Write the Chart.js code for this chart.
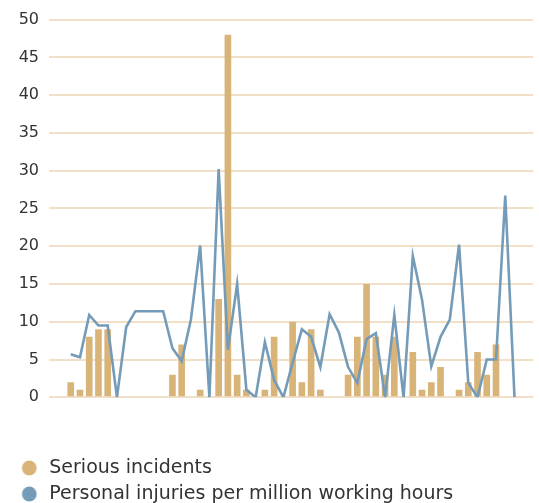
<!DOCTYPE html>
<html>
<head>
<meta charset="utf-8">
<script src="https://cdn.jsdelivr.net/npm/chart.js@4/dist/chart.umd.min.js"></script>
<style>
  html, body { margin: 0; padding: 0; background: #ffffff; }
  #wrap { width: 539px; height: 503px; }
</style>
</head>
<body>
<div id="wrap"><canvas id="chart" width="539" height="503"></canvas></div>
<script>
// Reporting periods, in order (not labelled on the axis)
const periods = [
  1, 2, 3, 4, 5, 6, 7, 8, 9, 10,
  11, 12, 13, 14, 15, 16, 17, 18, 19, 20,
  21, 22, 23, 24, 25, 26, 27, 28, 29, 30,
  31, 32, 33, 34, 35, 36, 37, 38, 39, 40,
  41, 42, 43, 44, 45, 46, 47, 48, 49
];

// Number of serious incidents per period
const seriousIncidents = [
  2, 1, 8, 9, 9, 0, 0, 0, 0, 0,
  0, 3, 7, 0, 1, 0, 13, 48, 3, 1,
  0, 1, 8, 0, 10, 2, 9, 1, 0, 0,
  3, 8, 15, 8, 3, 8, 0, 6, 1, 2,
  4, 0, 1, 2, 6, 3, 7, 0, 0
];

// Personal injuries per million working hours
const injuryRate = [
  5.7, 5.3, 10.9, 9.5, 9.5, 0, 9.3, 11.4, 11.4, 11.4,
  11.4, 6.5, 4.8, 10.3, 20.1, 0, 30.2, 6.3, 15.0, 1.0,
  0, 7.3, 2.3, 0, 4.6, 9.0, 8.0, 4.0, 11.0, 8.6,
  4.0, 1.9, 7.7, 8.5, 0, 10.9, 0, 18.7, 12.9, 4.1,
  8.0, 10.3, 20.2, 1.9, 0, 5.0, 5.0, 26.7, 0
];

// Value axis ticks
const yTicks = [0, 5, 10, 15, 20, 25, 30, 35, 40, 45, 50];

const seriesNames = ['Serious incidents', 'Personal injuries per million working hours'];

const BAR_COLOR = '#d8b479';
const LINE_COLOR = '#749bb8';
const GRID_COLOR = '#f1dfc8';
const TEXT_COLOR = '#333333';
const FONT = 'DejaVu Sans, Verdana, sans-serif';

// Round legend markers, drawn a little left of the box centre
function legendDot(color) {
  const c = document.createElement('canvas');
  c.width = 24; c.height = 18;
  const g = c.getContext('2d');
  g.fillStyle = color;
  g.beginPath();
  g.arc(11, 9, 7.4, 0, Math.PI * 2);
  g.fill();
  return c;
}
const dots = [legendDot(BAR_COLOR), legendDot(LINE_COLOR)];

const ctx = document.getElementById('chart').getContext('2d');
new Chart(ctx, {
  type: 'bar',
  data: {
    datasets: [
      {
        type: 'bar',
        label: seriesNames[0],
        data: periods.map((p, i) => ({ x: i, y: seriousIncidents[i] })),
        backgroundColor: BAR_COLOR,
        borderWidth: 0,
        categoryPercentage: 0.8,
        barPercentage: 0.9,
        order: 1
      },
      {
        type: 'line',
        label: seriesNames[1],
        data: periods.map((p, i) => ({ x: i, y: injuryRate[i] })),
        borderColor: LINE_COLOR,
        backgroundColor: LINE_COLOR,
        borderWidth: 2.6,
        pointRadius: 0,
        tension: 0,
        fill: false,
        order: 0
      }
    ]
  },
  options: {
    responsive: false,
    animation: false,
    events: [],
    layout: { padding: { left: 13.8, right: 6, top: 10, bottom: -10.5 } },
    scales: {
      x: {
        type: 'linear',
        min: -2.35,
        max: 50,
        offset: false,
        grid: { display: false },
        border: { display: false },
        ticks: { display: false },
        afterFit: (scale) => { scale.height = 54.2; }
      },
      y: {
        min: 0,
        max: 50,
        afterBuildTicks: (scale) => { scale.ticks = yTicks.map(v => ({ value: v })); },
        grid: { color: GRID_COLOR, lineWidth: 2, drawTicks: false },
        border: { display: false },
        ticks: {
          padding: 10,
          color: TEXT_COLOR,
          font: { family: FONT, size: 16 }
        },
        afterFit: (scale) => { scale.width = 35.2; }
      }
    },
    plugins: {
      tooltip: { enabled: false },
      legend: {
        position: 'bottom',
        align: 'start',
        labels: {
          usePointStyle: true,
          padding: 7,
          color: TEXT_COLOR,
          font: { family: FONT, size: 19 },
          sort: (a, b) => a.datasetIndex - b.datasetIndex,
          generateLabels: (chart) => {
            const items = Chart.defaults.plugins.legend.labels.generateLabels(chart);
            items.forEach(it => {
              it.pointStyle = dots[it.datasetIndex];
              it.lineWidth = 0;
            });
            return items;
          }
        }
      }
    }
  }
});
</script>
</body>
</html>
